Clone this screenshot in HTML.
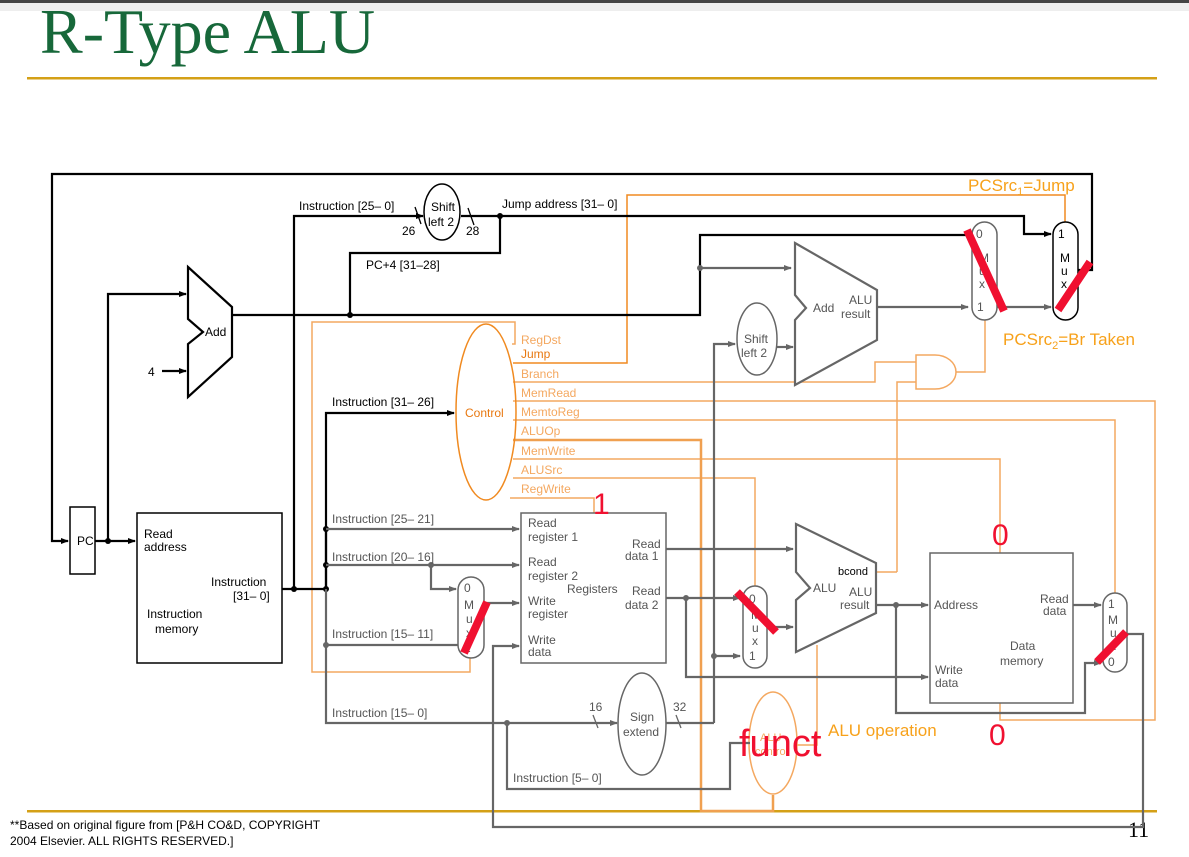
<!DOCTYPE html>
<html><head><meta charset="utf-8"><style>
html,body{margin:0;padding:0;background:#fff;}
svg{display:block;}
text{font-family:"Liberation Sans",sans-serif;}
</style></head><body>
<svg width="1189" height="857" viewBox="0 0 1189 857" xmlns="http://www.w3.org/2000/svg">
<defs>
<marker id="ab" markerWidth="8" markerHeight="8" refX="7" refY="4" orient="auto" markerUnits="userSpaceOnUse"><path d="M0,1 L8,4 L0,7 z" fill="#000"/></marker>
<marker id="ag" markerWidth="8" markerHeight="8" refX="7" refY="4" orient="auto" markerUnits="userSpaceOnUse"><path d="M0,1 L8,4 L0,7 z" fill="#666"/></marker>
</defs>
<rect x="0" y="0" width="1189" height="3" fill="#444"/>
<rect x="0" y="3" width="1189" height="8" fill="#eee"/>
<text x="40" y="53" font-size="64" fill="#17683a" style="font-family:'Liberation Serif',serif">R-Type ALU</text>
<rect x="27" y="77" width="1130" height="2.5" fill="#d4a017"/>
<rect x="27" y="810" width="1130" height="2.5" fill="#d4a017"/>
<text x="10" y="829" font-size="12" fill="#000">**Based on original figure from [P&amp;H CO&amp;D, COPYRIGHT</text>
<text x="10" y="845" font-size="12" fill="#000">2004 Elsevier. ALL RIGHTS RESERVED.]</text>
<text x="1128" y="837" font-size="22" fill="#000" style="font-family:'Liberation Serif',serif">11</text>

<g fill="none" stroke="#f4a860" stroke-width="1.5">
<path d="M512,344 H515 V322 H312 V672 H470 V658"/>
<path d="M513,382 H875 V362 H916"/>
<path d="M897,572 V382 H916"/>
<path d="M956,372 H985 V320"/>
<path d="M513,401 H1155 V720 H1000 V703"/>
<path d="M513,420 H1115 V593"/>
<path d="M513,459 H1000 V553"/>
<path d="M513,478 H755 V586"/>
<path d="M510,498 H594 V513"/>
<path d="M876,572 H897"/>
<path d="M817,645 V745 H797"/>
<path d="M916,355 H935 A21,17 0 0 1 935,389 H916 Z"/>
<ellipse cx="773" cy="743" rx="24" ry="51"/>
</g>
<g fill="none" stroke="#f0a050" stroke-width="2.5">
<path d="M513,440 H701 V811 H773 V795"/>
</g>
<g fill="none" stroke="#f08a20" stroke-width="1.5">
<path d="M513,363 H627 V195 H1065 V222"/>
<ellipse cx="486" cy="412" rx="30" ry="88"/>
</g>

<g fill="none" stroke="#000" stroke-width="2.2">
<path d="M1078,270 H1092 V174 H52 V541 H68" marker-end="url(#ab)"/>
<path d="M95,541 H135" marker-end="url(#ab)"/>
<path d="M108,541 V294 H186" marker-end="url(#ab)"/>
<path d="M162,371 H186" marker-end="url(#ab)"/>
<path d="M232,315 H700 V235 H970"/>
<path d="M350,315 V253 H500 V216"/>
<path d="M282,589 H326"/>
<path d="M294,589 V216 H423" marker-end="url(#ab)"/>
<path d="M461,216 H1024 V234 H1051" marker-end="url(#ab)"/>
<path d="M326,589 V413 H454" marker-end="url(#ab)"/>
<path d="M326,529 V589"/>
<path d="M188,267 L232,307 V357 L188,397 V344 L203,332 L188,319 Z"/>
<path d="M415,207 L421,224 M468,208 L474,225" stroke-width="1.3"/>
</g>
<g fill="#000">
<circle cx="108" cy="541" r="3"/><circle cx="294" cy="589" r="3"/><circle cx="326" cy="589" r="3"/>
<circle cx="350" cy="315" r="3"/><circle cx="500" cy="216" r="3"/><circle cx="326" cy="529" r="3"/><circle cx="326" cy="565" r="3"/>
</g>
<rect x="70" y="507" width="25" height="67" fill="none" stroke="#000" stroke-width="1.5"/>
<rect x="137" y="513" width="145" height="150" fill="none" stroke="#000" stroke-width="1.5"/>
<ellipse cx="442" cy="212" rx="18" ry="28" fill="#fff" stroke="#000" stroke-width="1.5"/>
<rect x="1053" y="222" width="25" height="98" rx="12.5" fill="none" stroke="#000" stroke-width="1.5"/>

<g fill="none" stroke="#666" stroke-width="2.2">
<path d="M700,268 H791" marker-end="url(#ag)"/>
<path d="M877,307 H968" marker-end="url(#ag)"/>
<path d="M997,307 H1051" marker-end="url(#ag)"/>
<path d="M777,347 H793" marker-end="url(#ag)"/>
<path d="M714,723 V344 H735" marker-end="url(#ag)"/>
<path d="M714,656 H740" marker-end="url(#ag)"/>
<path d="M326,589 V723 H617" marker-end="url(#ag)"/>
<path d="M326,529 H519" marker-end="url(#ag)"/>
<path d="M326,565 H519" marker-end="url(#ag)"/>
<path d="M431,565 V589 H456" marker-end="url(#ag)"/>
<path d="M326,645 H458"/>
<path d="M484,603 H519" marker-end="url(#ag)"/>
<path d="M1127,634 H1143 V827 H493 V646 H519" marker-end="url(#ag)"/>
<path d="M666,549 H793" marker-end="url(#ag)"/>
<path d="M666,598 H740" marker-end="url(#ag)"/>
<path d="M686,598 V677 H928" marker-end="url(#ag)"/>
<path d="M767,627 H793" marker-end="url(#ag)"/>
<path d="M876,605 H928" marker-end="url(#ag)"/>
<path d="M896,605 V713 H1085 V663 H1101" marker-end="url(#ag)"/>
<path d="M1073,605 H1101" marker-end="url(#ag)"/>
<path d="M666,723 H714"/>
<path d="M507,723 V789 H730 V743 H750"/>
<path d="M795,243 L877,290 V340 L795,385 V320 L806,308 L795,295 Z" fill="#fff"/>
<path d="M796,524 L876,563 V613 L796,652 V600 L810,588 L796,572 Z" fill="#fff"/>
<path d="M593,715 L598,728 M676,715 L681,728" stroke-width="1.3"/>
</g>
<g fill="#666">
<circle cx="700" cy="268" r="3"/><circle cx="326" cy="645" r="3"/><circle cx="431" cy="565" r="3"/>
<circle cx="686" cy="598" r="3"/><circle cx="714" cy="656" r="3"/><circle cx="896" cy="605" r="3"/><circle cx="507" cy="723" r="3"/>
</g>
<g fill="#fff" stroke="#666" stroke-width="1.5">
<rect x="972" y="222" width="25" height="98" rx="12.5"/>
<rect x="458" y="577" width="26" height="81" rx="13"/>
<rect x="743" y="586" width="24" height="82" rx="12"/>
<rect x="1103" y="593" width="24" height="79" rx="12"/>
<rect x="521" y="513" width="145" height="150"/>
<rect x="930" y="553" width="143" height="150"/>
<ellipse cx="757" cy="339" rx="20" ry="36"/>
<ellipse cx="642" cy="724" rx="24" ry="51"/>
</g>

<g font-size="12" fill="#000">
<text x="77" y="545">PC</text>
<text x="205" y="336">Add</text>
<text x="148" y="376">4</text>
<text x="144" y="538">Read</text><text x="144" y="551">address</text>
<text x="211" y="586">Instruction</text><text x="233" y="600">[31– 0]</text>
<text x="147" y="618">Instruction</text><text x="155" y="633">memory</text>
<text x="299" y="210">Instruction [25– 0]</text>
<text x="402" y="235">26</text><text x="466" y="235">28</text>
<text x="431" y="211">Shift</text><text x="428" y="226">left 2</text>
<text x="502" y="208">Jump address [31– 0]</text>
<text x="366" y="269">PC+4 [31–28]</text>
<text x="332" y="406">Instruction [31– 26]</text>
<text x="1058" y="238">1</text><text x="1060" y="262">M</text><text x="1061" y="275">u</text><text x="1061" y="288">x</text>
<text x="838" y="575" font-size="11">bcond</text>
</g>
<g font-size="12" fill="#555">
<text x="976" y="238">0</text><text x="979" y="262">M</text><text x="979" y="275">u</text><text x="979" y="288">x</text><text x="977" y="311">1</text>
<text x="813" y="312">Add</text><text x="849" y="304">ALU</text><text x="841" y="318">result</text>
<text x="744" y="343">Shift</text><text x="741" y="357">left 2</text>
<text x="332" y="523">Instruction [25– 21]</text>
<text x="332" y="561">Instruction [20– 16]</text>
<text x="332" y="638">Instruction [15– 11]</text>
<text x="332" y="717">Instruction [15– 0]</text>
<text x="513" y="782">Instruction [5– 0]</text>
<text x="464" y="592">0</text><text x="464" y="609">M</text><text x="466" y="623">u</text><text x="466" y="637">x</text><text x="464" y="652">1</text>
<text x="528" y="527">Read</text><text x="528" y="541">register 1</text>
<text x="528" y="566">Read</text><text x="528" y="580">register 2</text>
<text x="567" y="593">Registers</text>
<text x="528" y="605">Write</text><text x="528" y="618">register</text>
<text x="528" y="644">Write</text><text x="528" y="656">data</text>
<text x="632" y="548">Read</text><text x="625" y="560">data 1</text>
<text x="632" y="595">Read</text><text x="625" y="609">data 2</text>
<text x="749" y="603">0</text><text x="751" y="619">M</text><text x="752" y="632">u</text><text x="752" y="645">x</text><text x="749" y="660">1</text>
<text x="813" y="592">ALU</text><text x="849" y="596">ALU</text><text x="840" y="609">result</text>
<text x="630" y="721">Sign</text><text x="623" y="736">extend</text>
<text x="589" y="711">16</text><text x="673" y="711">32</text>
<text x="934" y="609">Address</text>
<text x="1040" y="603">Read</text><text x="1043" y="615">data</text>
<text x="1010" y="650">Data</text><text x="1000" y="665">memory</text>
<text x="935" y="674">Write</text><text x="935" y="687">data</text>
<text x="1108" y="608">1</text><text x="1108" y="624">M</text><text x="1110" y="637">u</text><text x="1110" y="650">x</text><text x="1108" y="666">0</text>
</g>
<g font-size="12" fill="#f4a860">
<text x="521" y="344">RegDst</text>
<text x="521" y="378">Branch</text>
<text x="521" y="397">MemRead</text>
<text x="521" y="416">MemtoReg</text>
<text x="521" y="435">ALUOp</text>
<text x="521" y="455">MemWrite</text>
<text x="521" y="474">ALUSrc</text>
<text x="521" y="493">RegWrite</text>
<text x="760" y="741" font-size="11">ALU</text>
<text x="755" y="755" font-size="11">control</text>
</g>
<text x="521" y="358" font-size="12" fill="#e87810">Jump</text>
<text x="465" y="417" font-size="12" fill="#e87810">Control</text>
<g fill="#f7a11a" font-size="17">
<text x="968" y="191">PCSrc<tspan font-size="11" dy="4">1</tspan><tspan dy="-4">=Jump</tspan></text>
<text x="1003" y="345">PCSrc<tspan font-size="11" dy="4">2</tspan><tspan dy="-4">=Br Taken</tspan></text>
<text x="828" y="736">ALU operation</text>
</g>
<g stroke="#f01030" stroke-width="8" stroke-linecap="butt">
<line x1="967" y1="230" x2="1004" y2="311"/>
<line x1="1090" y1="262" x2="1058" y2="310"/>
<line x1="487" y1="602" x2="464" y2="653"/>
<line x1="737" y1="592" x2="776" y2="632"/>
<line x1="1126" y1="632" x2="1097" y2="662"/>
</g>
<g fill="#f01030">
<text x="593" y="514" font-size="30">1</text>
<text x="992" y="545" font-size="30">0</text>
<text x="989" y="745" font-size="30">0</text>
<text x="739" y="756" font-size="38">funct</text>
</g>
</svg>
</body></html>
